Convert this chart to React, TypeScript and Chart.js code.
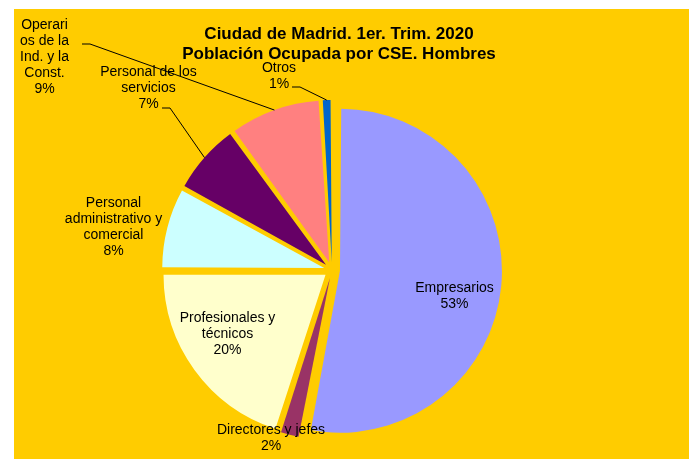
import React, { useEffect, useRef } from "react";
import { Chart, registerables } from "chart.js";

Chart.register(...registerables);

// ---- data ----
const categories = [
  "Empresarios",
  "Directores y jefes",
  "Profesionales y técnicos",
  "Personal administrativo y comercial",
  "Personal de los servicios",
  "Operarios de la Ind. y la Const.",
  "Otros",
];
const values = [53, 2, 20, 8, 7, 9, 1];
const labelNameLines = [
  ["Empresarios"],
  ["Directores y jefes"],
  ["Profesionales y", "técnicos"],
  ["Personal", "administrativo y", "comercial"],
  ["Personal de los", "servicios"],
  ["Operari", "os de la", "Ind. y la", "Const."],
  ["Otros"],
];
const titleLines = ["Ciudad de Madrid. 1er. Trim. 2020", "Población Ocupada por CSE. Hombres"];

// ---- styles ----
const sliceColors = ["#9999FF", "#993366", "#FFFFCC", "#CCFFFF", "#660066", "#FF8080", "#0066CC"];
const BG = "#FFCC00";
const RADIUS = 162;
const EXPLODE = 8; // visual translation in px
const FONT = '"Liberation Sans", Arial, sans-serif';

// label block positions (first line centre) relative to pie centre
const labelOffsets = [
  [122.5, 18],
  [-61, 160],
  [-104.5, 48],
  [-218.5, -67],
  [-183.5, -198],
  [-287.5, -245],
  [-53, -202],
];
// leader line start + elbow relative to pie centre
const leaders: Record<number, number[][]> = {
  4: [[-170, -162], [-162, -162]],
  5: [[-250, -226], [-242, -226]],
  6: [[-40, -183], [-32, -183]],
};

const fixRadiusPlugin = {
  id: "fixRadius",
  afterDatasetsUpdate(chart: any) {
    const meta = chart.getDatasetMeta(0);
    meta.data.forEach((arc: any) => {
      const circ = arc.circumference || 0;
      const fix = 1 - Math.sin(Math.min(Math.PI, circ));
      arc.outerRadius = RADIUS - EXPLODE * fix;
    });
  },
};

const labelPlugin = {
  id: "labels",
  afterDraw(chart: any) {
    const ctx = chart.ctx;
    const meta = chart.getDatasetMeta(0);
    const first = meta.data[0];
    const cx = first.x;
    const cy = first.y;
    ctx.save();
    // title
    ctx.fillStyle = "#000";
    ctx.textAlign = "center";
    ctx.textBaseline = "middle";
    ctx.font = `bold 17px ${FONT}`;
    ctx.fillText(titleLines[0], cx + 7, cy - 235.5);
    ctx.fillText(titleLines[1], cx + 7, cy - 216);

    ctx.font = `14px ${FONT}`;
    const lh = 16;
    meta.data.forEach((arc: any, i: number) => {
      const lines = [...labelNameLines[i], `${values[i]}%`];
      const [ox, oy] = labelOffsets[i];
      lines.forEach((t, k) => {
        ctx.fillText(t, cx + ox, cy + oy + k * lh);
      });
      const ld = leaders[i];
      if (ld) {
        const mid = (arc.startAngle + arc.endAngle) / 2;
        const ex = arc.x + Math.cos(mid) * (RADIUS + EXPLODE);
        const ey = arc.y + Math.sin(mid) * (RADIUS + EXPLODE);
        ctx.beginPath();
        ctx.strokeStyle = "#000";
        ctx.lineWidth = 1;
        ctx.moveTo(cx + ld[0][0], cy + ld[0][1]);
        ctx.lineTo(cx + ld[1][0], cy + ld[1][1]);
        ctx.lineTo(ex, ey);
        ctx.stroke();
      }
    });
    ctx.restore();
  },
};

export default function App() {
  const ref = useRef<HTMLCanvasElement>(null);
  useEffect(() => {
    if (!ref.current) return;
    const chart = new Chart(ref.current, {
      type: "pie",
      data: {
        labels: categories,
        datasets: [
          {
            data: values,
            backgroundColor: sliceColors,
            borderWidth: 0,
            offset: EXPLODE * 4,
            radius: RADIUS,
          } as any,
        ],
      },
      options: {
        responsive: false,
        animation: false,
        events: [],
        layout: { padding: { left: 0, right: 39, top: 72, bottom: 0 } },
        plugins: {
          legend: { display: false },
          title: { display: false },
          tooltip: { enabled: false },
        },
      },
      plugins: [fixRadiusPlugin, labelPlugin],
    });
    return () => chart.destroy();
  }, []);
  return (
    <div style={{ position: "fixed", left: 0, top: 0, width: 689, height: 459, background: "#fff" }}>
      <div style={{ position: "absolute", left: 14, top: 9, width: 675, height: 450, background: BG }}>
        <canvas ref={ref} width={675} height={450} style={{ display: "block", width: 675, height: 450 }} />
      </div>
    </div>
  );
}
